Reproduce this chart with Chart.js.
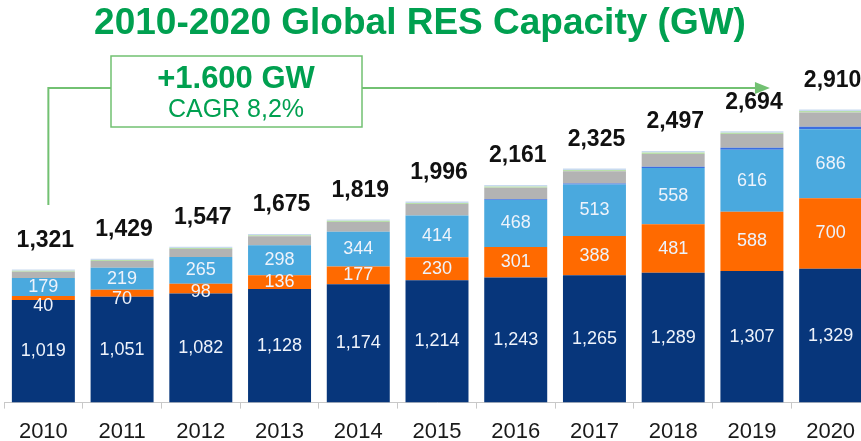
<!DOCTYPE html>
<html>
<head>
<meta charset="utf-8">
<script src="https://cdn.jsdelivr.net/npm/chart.js@4.4.1/dist/chart.umd.min.js"></script>
<style>
html, body { margin:0; padding:0; background:#fff; overflow:hidden; }
#wrap { position:relative; width:870px; height:455px; }
</style>
</head>
<body>
<div id="wrap"><canvas id="myChart"></canvas></div>
<script>
const years = ['2010','2011','2012','2013','2014','2015','2016','2017','2018','2019','2020'];
const hydro = [1019,1051,1082,1128,1174,1214,1243,1265,1289,1307,1329];
const solar = [40,70,98,136,177,230,301,388,481,588,700];
const wind = [179,219,265,298,344,414,468,513,558,616,686];
const csp = [0,0,0,0,0,0,6,10,14,18,24];
const bio = [61,67,79,89,99,113,116,122,127,137,141];
const geo = [9,9,10,10,11,11,12,12,13,13,14];
const other = [13,13,13,14,14,14,15,15,15,15,16];
const totals = ['1,321','1,429','1,547','1,675','1,819','1,996','2,161','2,325','2,497','2,694','2,910'];

const green = '#00a050';
const lineGreen = '#72c172';
const FONT = '"Liberation Sans", Arial, sans-serif';

// labels, totals, title and the growth arrow
const decor = {
	id:'decor',
	afterDatasetsDraw(chart){
		const ctx = chart.ctx;
		const xs = chart.scales.x;
		ctx.save();
		// values inside the three big segments
		ctx.font = '18px ' + FONT;
		ctx.fillStyle = '#eef3fb';
		ctx.textAlign = 'center';
		ctx.textBaseline = 'middle';
		[0,1,2].forEach(function(d){
			const meta = chart.getDatasetMeta(d);
			meta.data.forEach(function(bar, i){
				const top = Math.min(bar.y, bar.base), bot = Math.max(bar.y, bar.base);
				const h = bot - top;
				let y = (top + bot) / 2;
				if (h < 14) y += (14 - h) * 0.8;
				ctx.fillText(chart.data.datasets[d].data[i].toLocaleString('en-US'), bar.x, y);
			});
		});
		// totals on top
		const last = chart.getDatasetMeta(chart.data.datasets.length - 1);
		ctx.font = 'bold 23px ' + FONT;
		ctx.fillStyle = '#111';
		last.data.forEach(function(bar, i){
			ctx.fillText(totals[i], bar.x + 2, bar.y - 29);
		});
		// title
		ctx.font = 'bold 37px ' + FONT;
		ctx.fillStyle = green;
		ctx.fillText('2010-2020 Global RES Capacity (GW)', 420, 24);
		// arrow
		const x0 = xs.getPixelForValue(0) + 5;
		const tip = xs.getPixelForValue(9) + 18;
		const ay = 88;
		ctx.strokeStyle = lineGreen;
		ctx.lineWidth = 2;
		ctx.beginPath();
		ctx.moveTo(x0, 205);
		ctx.lineTo(x0, ay);
		ctx.lineTo(111, ay);
		ctx.moveTo(362, ay);
		ctx.lineTo(tip - 14, ay);
		ctx.stroke();
		ctx.fillStyle = lineGreen;
		ctx.beginPath();
		ctx.moveTo(tip, ay);
		ctx.lineTo(tip - 15, ay - 6);
		ctx.lineTo(tip - 15, ay + 6);
		ctx.closePath();
		ctx.fill();
		// box
		ctx.lineWidth = 1.5;
		ctx.strokeRect(111, 56, 251, 71);
		ctx.fillStyle = green;
		ctx.font = 'bold 31px ' + FONT;
		ctx.fillText('+1.600 GW', 236, 79);
		ctx.font = '25px ' + FONT;
		ctx.fillText('CAGR 8,2%', 236, 110);
		ctx.restore();
	}
};

let chart = new Chart(document.getElementById('myChart').getContext('2d'), {
	type:'bar',
	data:{
		labels:years,
		datasets:[
			{label:'Hydro', data:hydro, backgroundColor:'#07367b'},
			{label:'Solar', data:solar, backgroundColor:'#ff6a00'},
			{label:'Wind', data:wind, backgroundColor:'#4aa9de'},
			{label:'CSP', data:csp, backgroundColor:'#3b6ee0'},
			{label:'Bioenergy', data:bio, backgroundColor:'#b3b3b3'},
			{label:'Geothermal', data:geo, backgroundColor:'#b9dfa9'},
			{label:'Other', data:other, backgroundColor:'#c8daef'}
		]
	},
	options:{
		responsive:true,
		maintainAspectRatio:false,
		animation:false,
		layout:{padding:{left:4, right:0, top:41, bottom:0}},
		datasets:{bar:{barPercentage:0.8, categoryPercentage:1.0, borderWidth:0}},
		scales:{
			x:{
				stacked:true,
				grid:{display:true, drawOnChartArea:false, tickLength:6, color:'#c8c8c8'},
				border:{display:true, color:'#c8c8c8'},
				ticks:{color:'#1a1a1a', font:{family:FONT, size:22}, padding:10}
			},
			y:{
				stacked:true, display:false, min:0, max:3590
			}
		},
		plugins:{
			legend:{display:false},
			title:{display:false},
			tooltip:{enabled:false}
		}
	},
	plugins:[decor]
});
</script>
</body>
</html>
